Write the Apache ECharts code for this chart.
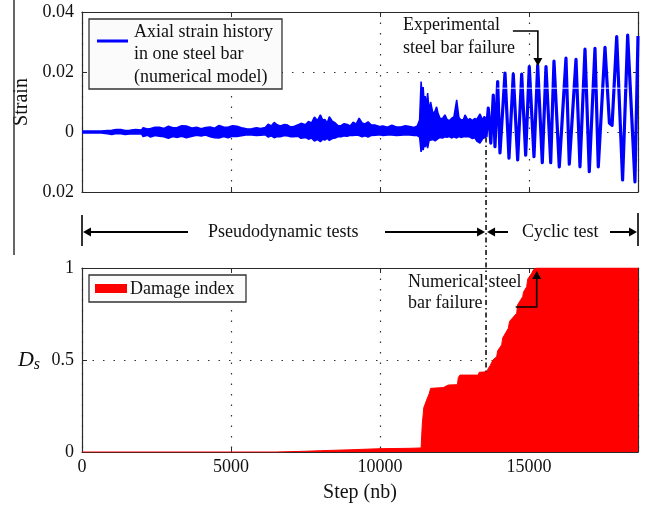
<!DOCTYPE html>
<html><head><meta charset="utf-8">
<script src="https://cdn.jsdelivr.net/npm/echarts@6/dist/echarts.min.js"></script>
<style>html,body{margin:0;padding:0;background:#fff}#c{width:649px;height:509px}</style>
</head><body><div id="c"></div>
<script>
// ---------- data ----------
const stepMax = 18660;
const xTickLabels = ['0', '5000', '10000', '15000'];
const strainTickLabels = ['0.02', '0', '0.02', '0.04'];
const damageTickLabels = ['0', '0.5', '1'];

// envelope of the dense (pseudodynamic) part of the strain history
const envStep  = [0, 650, 700, 850, 1000, 1150, 1300, 1450, 1600, 1800, 2000, 2050, 2200, 2300, 2450, 2600, 2750, 2900, 3050, 3200, 3350, 3500, 3700, 3850, 4000, 4150, 4300, 4450, 4600, 4750, 4900, 5050, 5200, 5400, 5550, 5700, 5850, 6000, 6150, 6250, 6350, 6450, 6550, 6650, 6800, 6900, 7000, 7100, 7250, 7350, 7500, 7600, 7700, 7800, 7900, 8000, 8080, 8150, 8230, 8300, 8400, 8500, 8600, 8700, 8800, 8900, 9000, 9100, 9200, 9300, 9400, 9500, 9600, 9700, 9850, 10000, 10100, 10250, 10400, 10550, 10700, 10850, 11000, 11150, 11250, 11330, 11380, 11420, 11450, 11490, 11520, 11560, 11600, 11650, 11700, 11780, 11850, 11900, 11950, 12020, 12100, 12180, 12250, 12330, 12400, 12480, 12575, 12650, 12720, 12800, 12855, 12950, 13020, 13100, 13180, 13250, 13357, 13450, 13500, 13560];
const envUpper = [0.0003, 0.0003, 0.0007, 0.0005, 0.0006, 0.0008, 0.0008, 0.0005, 0.0006, 0.0008, 0.0007, 0.0014, 0.0010, 0.0012, 0.0016, 0.0016, 0.0012, 0.0019, 0.0014, 0.0015, 0.0021, 0.0020, 0.0013, 0.0016, 0.0011, 0.0015, 0.0017, 0.0013, 0.0022, 0.0017, 0.0016, 0.0021, 0.0019, 0.0013, 0.0010, 0.0011, 0.0014, 0.0012, 0.0015, 0.0026, 0.0020, 0.0032, 0.0024, 0.0020, 0.0025, 0.0023, 0.0017, 0.0018, 0.0024, 0.0029, 0.0024, 0.0035, 0.0030, 0.0050, 0.0038, 0.0057, 0.0040, 0.0042, 0.0030, 0.0051, 0.0036, 0.0030, 0.0021, 0.0022, 0.0028, 0.0025, 0.0020, 0.0033, 0.0026, 0.0046, 0.0030, 0.0027, 0.0034, 0.0024, 0.0023, 0.0018, 0.0020, 0.0016, 0.0023, 0.0017, 0.0017, 0.0021, 0.0018, 0.0015, 0.0020, 0.0040, 0.0168, 0.0120, 0.0150, 0.0090, 0.0120, 0.0085, 0.0130, 0.0070, 0.0100, 0.0060, 0.0070, 0.0084, 0.0062, 0.0045, 0.0045, 0.0057, 0.0042, 0.0038, 0.0045, 0.0050, 0.0107, 0.0048, 0.0040, 0.0042, 0.0057, 0.0040, 0.0045, 0.0038, 0.0045, 0.0042, 0.0060, 0.0040, 0.0052, 0.0045];
const envLower = [-0.0003, -0.0003, -0.0007, -0.0006, -0.0008, -0.0005, -0.0006, -0.0008, -0.0007, -0.0006, -0.0007, -0.0015, -0.0011, -0.0017, -0.0012, -0.0014, -0.0016, -0.0021, -0.0015, -0.0018, -0.0014, -0.0019, -0.0014, -0.0011, -0.0013, -0.0010, -0.0016, -0.0019, -0.0020, -0.0015, -0.0019, -0.0014, -0.0015, -0.0012, -0.0009, -0.0010, -0.0012, -0.0011, -0.0009, -0.0017, -0.0013, -0.0019, -0.0015, -0.0016, -0.0012, -0.0013, -0.0016, -0.0016, -0.0014, -0.0021, -0.0018, -0.0024, -0.0020, -0.0030, -0.0025, -0.0032, -0.0024, -0.0027, -0.0021, -0.0028, -0.0022, -0.0020, -0.0015, -0.0016, -0.0013, -0.0014, -0.0011, -0.0012, -0.0010, -0.0012, -0.0016, -0.0013, -0.0017, -0.0012, -0.0011, -0.0009, -0.0012, -0.0010, -0.0010, -0.0012, -0.0011, -0.0009, -0.0010, -0.0012, -0.0012, -0.0017, -0.0066, -0.0045, -0.0060, -0.0040, -0.0050, -0.0035, -0.0054, -0.0028, -0.0032, -0.0025, -0.0030, -0.0025, -0.0022, -0.0018, -0.0020, -0.0016, -0.0018, -0.0015, -0.0020, -0.0016, -0.0020, -0.0015, -0.0018, -0.0016, -0.0020, -0.0015, -0.0017, -0.0022, -0.0019, -0.0030, -0.0037, -0.0022, -0.0018, -0.0017];

// peaks and troughs of the cyclic part
const cycStep   = [13560, 13635, 13720, 13803, 13860, 13950, 14028, 14196, 14330, 14474, 14622, 14756, 14890, 15011, 15169, 15293, 15448, 15572, 15730, 15840, 16018, 16243, 16354, 16579, 16713, 16881, 17025, 17216, 17327, 17552, 17700, 17790, 17945, 18143, 18313, 18558, 18660];
const cycStrain = [-0.0017, 0.0080, -0.0037, 0.0123, -0.0049, 0.0168, -0.0070, 0.0196, -0.0087, 0.0193, -0.0093, 0.0193, -0.0077, 0.0218, -0.0082, 0.0223, -0.0102, 0.0218, -0.0102, 0.0236, -0.0116, 0.0246, -0.0107, 0.0242, -0.0116, 0.0276, -0.0132, 0.0279, -0.0116, 0.0282, 0.0030, 0.0022, 0.0318, -0.0160, 0.0323, -0.0166, 0.0320];

// thin white line crossing the cycles in the original figure
const whiteStep  = [13917, 18280];
const whiteValue = [0.0146, 0.0146];

// damage index
const dmgStep  = [0, 6500, 7500, 8000, 9000, 10000, 11000, 11380, 11420, 11470, 11567, 11656, 11700, 12125, 12150, 12293, 12600, 12629, 12685, 13300, 13330, 13580, 13640, 13700, 13790, 13917, 13950, 14085, 14120, 14307, 14350, 14589, 14620, 14790, 14820, 14924, 14960, 15092, 15150, 15260, 18660];
const dmgValue = [0, 0, 0.004, 0.007, 0.012, 0.018, 0.020, 0.022, 0.15, 0.24, 0.283, 0.319, 0.346, 0.350, 0.355, 0.364, 0.366, 0.405, 0.418, 0.418, 0.433, 0.436, 0.455, 0.470, 0.500, 0.518, 0.550, 0.582, 0.620, 0.672, 0.710, 0.754, 0.800, 0.844, 0.870, 0.898, 0.940, 0.971, 0.990, 1.0, 1.0];

const boundaryStep = 13560;      // end of pseudodynamic tests
const expFailureStep = 15300;    // experimental failure
const numFailureStep = 15260;    // numerical failure

// ---------- chart ----------
const FONT = '"Liberation Serif", "Times New Roman", serif';
const INK = '#111';
const AX = '#2a2a2a';
const dotted = { show: true, lineStyle: { color: '#333', width: 1.2, type: [1.5, 9] } };

const zip = (a, b) => a.map((v, i) => [v, b[i]]);

function xAx(grid, pos, labels, extra) {
  return Object.assign({
    type: 'value', gridIndex: grid, position: pos, min: 0, max: stepMax, interval: 5000,
    axisLine: { show: true, onZero: false, lineStyle: { color: AX, width: 1.2 } },
    axisTick: { show: true, inside: true, length: 5, lineStyle: { color: AX } },
    axisLabel: labels ? {
      show: true, showMaxLabel: false, margin: 6, color: INK, fontFamily: FONT, fontSize: 18,
      formatter: (v) => { const i = Math.round(v / 5000); return (v % 5000 === 0 && i < xTickLabels.length) ? xTickLabels[i] : ''; }
    } : { show: false },
    splitLine: pos === 'bottom' ? dotted : { show: false }
  }, extra || {});
}

const chart = echarts.init(document.getElementById('c'), null, { renderer: 'canvas' });

const option = {
  animation: false,
  backgroundColor: '#fff',
  grid: [
    { left: 82, top: 12, width: 556, height: 180 },
    { left: 82, top: 268, width: 556, height: 184 }
  ],
  xAxis: [
    xAx(0, 'bottom', false),
    xAx(0, 'top', false),
    xAx(1, 'bottom', true, {
      name: 'Step (nb)', nameLocation: 'middle', nameGap: 31,
      nameTextStyle: { fontFamily: FONT, fontSize: 20, color: INK }
    }),
    xAx(1, 'top', false)
  ],
  yAxis: [
    {
      type: 'value', gridIndex: 0, position: 'left', min: -0.02, max: 0.04, interval: 0.02,
      axisLine: { show: true, onZero: false, lineStyle: { color: AX, width: 1.2 } },
      axisTick: { show: true, inside: true, length: 5, lineStyle: { color: AX } },
      axisLabel: { margin: 8, color: INK, fontFamily: FONT, fontSize: 18,
        formatter: (v) => strainTickLabels[Math.round((v + 0.02) / 0.02)] },
      splitLine: dotted,
      name: 'Strain', nameLocation: 'middle', nameGap: 46,
      nameTextStyle: { fontFamily: FONT, fontSize: 20, color: INK }
    },
    {
      type: 'value', gridIndex: 0, position: 'right', min: -0.02, max: 0.04, interval: 0.02,
      axisLine: { show: true, onZero: false, lineStyle: { color: AX, width: 1.2 } },
      axisTick: { show: true, inside: true, length: 5, lineStyle: { color: AX } },
      axisLabel: { show: false }, splitLine: { show: false }
    },
    {
      type: 'value', gridIndex: 1, position: 'left', min: 0, max: 1, interval: 0.5,
      axisLine: { show: true, onZero: false, lineStyle: { color: AX, width: 1.2 } },
      axisTick: { show: true, inside: true, length: 5, lineStyle: { color: AX } },
      axisLabel: { margin: 8, color: INK, fontFamily: FONT, fontSize: 18,
        formatter: (v) => damageTickLabels[Math.round(v / 0.5)] },
      splitLine: dotted,
      name: '{d|D}{s|s}', nameLocation: 'middle', nameGap: 42, nameRotate: 0,
      nameTextStyle: {
        color: INK, fontFamily: FONT, align: 'right',
        rich: {
          d: { fontFamily: FONT, fontStyle: 'italic', fontSize: 22, color: INK },
          s: { fontFamily: FONT, fontStyle: 'italic', fontSize: 16, color: INK, padding: [10, 0, 0, 0] }
        }
      }
    },
    {
      type: 'value', gridIndex: 1, position: 'right', min: 0, max: 1, interval: 0.5,
      axisLine: { show: true, onZero: false, lineStyle: { color: AX, width: 1.2 } },
      axisTick: { show: true, inside: true, length: 5, lineStyle: { color: AX } },
      axisLabel: { show: false }, splitLine: { show: false }
    }
  ],
  series: [
    {
      name: 'Axial strain history (upper envelope)', type: 'line', xAxisIndex: 0, yAxisIndex: 0,
      data: zip(envStep, envUpper), symbol: 'none',
      lineStyle: { color: '#0000ff', width: 1.5 }, areaStyle: { color: '#0000ff', opacity: 1 }
    },
    {
      name: 'Axial strain history (lower envelope)', type: 'line', xAxisIndex: 0, yAxisIndex: 0,
      data: zip(envStep, envLower), symbol: 'none',
      lineStyle: { color: '#0000ff', width: 1.5 }, areaStyle: { color: '#0000ff', opacity: 1 }
    },
    {
      name: 'Axial strain history in one steel bar (numerical model)', type: 'line', xAxisIndex: 0, yAxisIndex: 0,
      data: zip(cycStep, cycStrain), symbol: 'none',
      lineStyle: { color: '#0000ff', width: 3.2, join: 'round' }
    },
    {
      name: 'artifact', type: 'line', xAxisIndex: 0, yAxisIndex: 0, z: 3,
      data: zip(whiteStep, whiteValue), symbol: 'none',
      lineStyle: { color: '#ffffff', width: 1, opacity: 0.85 }
    },
    {
      name: 'Damage index', type: 'line', xAxisIndex: 2, yAxisIndex: 2,
      data: zip(dmgStep, dmgValue), symbol: 'none',
      lineStyle: { color: '#ff0000', width: 1 }, areaStyle: { color: '#ff0000', opacity: 1 }
    }
  ]
};
chart.setOption(option);

// ---------- annotations ----------
const px = (step) => chart.convertToPixel({ xAxisIndex: 0 }, step);
const pyS = (v) => chart.convertToPixel({ yAxisIndex: 0 }, v);
const pyD = (v) => chart.convertToPixel({ yAxisIndex: 2 }, v);

function txt(t, x, y, extra) {
  return { type: 'text', z: 100, style: Object.assign({ text: t, x: x, y: y, fill: INK, font: '18px ' + FONT, align: 'left', verticalAlign: 'middle' }, extra || {}) };
}
function seg(x1, y1, x2, y2, w, dash) {
  return { type: 'line', z: 100, shape: { x1, y1, x2, y2 }, style: { stroke: '#000', lineWidth: w || 1.6, lineDash: dash || null } };
}
function head(xTip, yTip, dir) {
  const L = 8, W = 4.5;
  let pts;
  if (dir === 'left') pts = [[xTip, yTip], [xTip + L, yTip - W], [xTip + L, yTip + W]];
  if (dir === 'right') pts = [[xTip, yTip], [xTip - L, yTip - W], [xTip - L, yTip + W]];
  if (dir === 'down') pts = [[xTip, yTip], [xTip - W, yTip - L], [xTip + W, yTip - L]];
  if (dir === 'up') pts = [[xTip, yTip], [xTip - W, yTip + L], [xTip + W, yTip + L]];
  return { type: 'polygon', z: 100, shape: { points: pts }, style: { fill: '#000' } };
}

const xB = px(boundaryStep);
const xL = px(0), xR = px(stepMax);
const xE = px(expFailureStep);
const xN = px(numFailureStep);
const yMid = 232;

const g = [
  // left margin rule of the original page
  { type: 'line', z: 100, shape: { x1: 14, y1: 0, x2: 14, y2: 255 }, style: { stroke: '#333', lineWidth: 1.5 } },
  // dash-dot boundary line
  seg(xB, pyS(-0.0018), xB, pyD(0.436), 1.5, [5, 3, 1.5, 3]),
  // strain legend
  { type: 'rect', z: 100, shape: { x: 89, y: 19, width: 193, height: 70 }, style: { fill: '#fbfbfb', stroke: '#333', lineWidth: 1.3 } },
  { type: 'line', z: 101, shape: { x1: 97, y1: 41, x2: 128, y2: 41 }, style: { stroke: '#0000ff', lineWidth: 3 } },
  txt('Axial strain history', 134, 32),
  txt('in one steel bar', 134, 54),
  txt('(numerical model)', 134, 77),
  // damage legend
  { type: 'rect', z: 100, shape: { x: 89, y: 275, width: 157, height: 27 }, style: { fill: '#fbfbfb', stroke: '#333', lineWidth: 1.3 } },
  { type: 'rect', z: 101, shape: { x: 95, y: 284, width: 32, height: 9 }, style: { fill: '#ff0000' } },
  txt('Damage index', 130, 289),
  // experimental failure
  txt('Experimental', 403, 25),
  txt('steel bar failure', 403, 48),
  { type: 'polyline', z: 100, shape: { points: [[xE - 25, 31], [xE, 31], [xE, 58]] }, style: { stroke: '#000', lineWidth: 1.6, fill: null } },
  head(xE, 66, 'down'),
  // numerical failure
  txt('Numerical steel', 408, 282),
  txt('bar failure', 408, 303),
  { type: 'polyline', z: 100, shape: { points: [[xN - 21, 307], [xN, 307], [xN, 279]] }, style: { stroke: '#000', lineWidth: 1.6, fill: null } },
  head(xN, 271, 'up'),
  // test phases
  seg(xL, 215, xL, 246, 1.6),
  seg(xL + 7, yMid, 188, yMid, 2),
  head(xL + 1, yMid, 'left'),
  txt('Pseudodynamic tests', 208, yMid),
  seg(385, yMid, xB - 7, yMid, 2),
  head(xB - 1, yMid, 'right'),
  seg(xB + 8, yMid, 508, yMid, 2),
  head(xB + 1, yMid, 'left'),
  txt('Cyclic test', 522, yMid),
  seg(610, yMid, xR - 7, yMid, 2),
  head(xR - 1, yMid, 'right'),
  seg(xR, 213, xR, 246, 1.6)
];
chart.setOption({ graphic: g });
</script>
</body></html>
